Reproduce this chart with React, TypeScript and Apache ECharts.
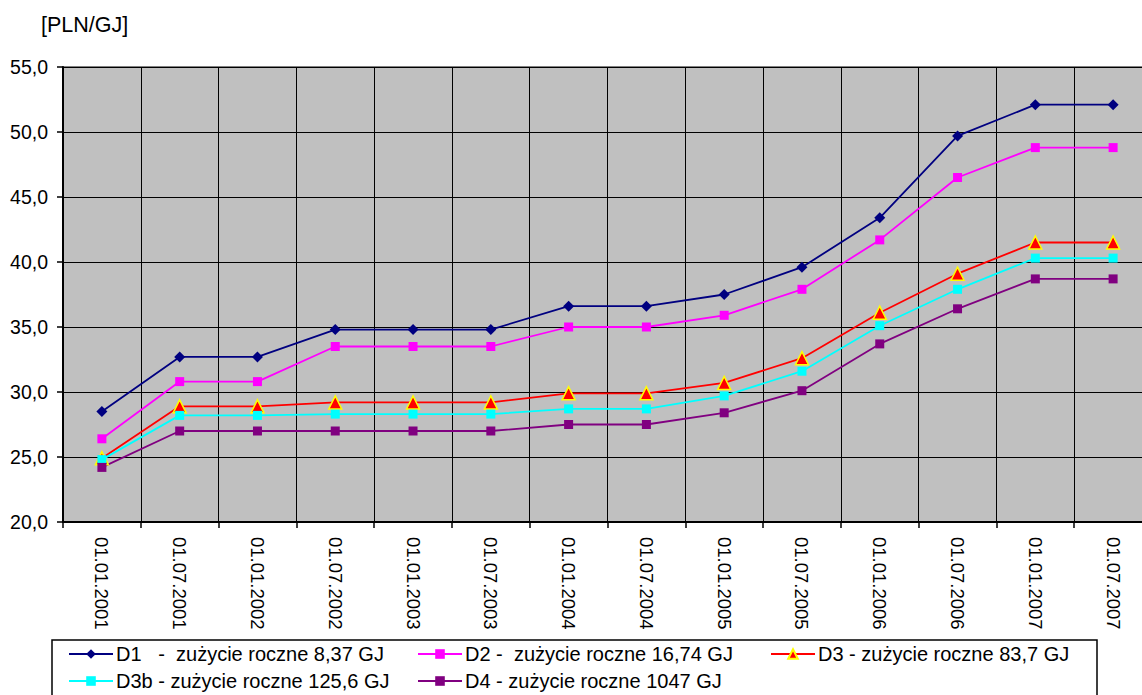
import React, { useEffect, useRef } from "react";
import * as echarts from "echarts";

const categories = [
  "01.01.2001", "01.07.2001", "01.01.2002", "01.07.2002", "01.01.2003", "01.07.2003",
  "01.01.2004", "01.07.2004", "01.01.2005", "01.07.2005", "01.01.2006", "01.07.2006",
  "01.01.2007", "01.07.2007",
];

const seriesNames = [
  "D1   -  zużycie roczne 8,37 GJ",
  "D2 -  zużycie roczne 16,74 GJ",
  "D3 - zużycie roczne 83,7 GJ",
  "D3b - zużycie roczne 125,6 GJ",
  "D4 - zużycie roczne 1047 GJ",
];

const d1 = [28.5, 32.7, 32.7, 34.8, 34.8, 34.8, 36.6, 36.6, 37.5, 39.6, 43.4, 49.7, 52.1, 52.1];
const d2 = [26.4, 30.8, 30.8, 33.5, 33.5, 33.5, 35.0, 35.0, 35.9, 37.9, 41.7, 46.5, 48.8, 48.8];
const d3 = [24.9, 28.9, 28.9, 29.2, 29.2, 29.2, 29.9, 29.9, 30.7, 32.6, 36.1, 39.1, 41.5, 41.5];
const d3b = [24.8, 28.2, 28.2, 28.3, 28.3, 28.3, 28.7, 28.7, 29.7, 31.6, 35.1, 37.9, 40.3, 40.3];
const d4 = [24.2, 27.0, 27.0, 27.0, 27.0, 27.0, 27.5, 27.5, 28.4, 30.1, 33.7, 36.4, 38.7, 38.7];

const yMin = 20;
const yMax = 55;
const yStep = 5;

const FONT = "'Liberation Sans', Arial, sans-serif";

export default function App() {
  const ref = useRef<HTMLDivElement>(null);

  useEffect(() => {
    if (!ref.current) return;
    const chart = echarts.init(ref.current, null, { renderer: "svg" });

    const mk = (name: string, data: number[], color: string, symbol: string, size: number) => ({
      name,
      type: "line",
      data,
      symbol,
      symbolSize: size,
      lineStyle: { color, width: 1.8 },
      itemStyle: { color },
      emphasis: { disabled: true },
    });

    const legendPos = [
      { left: 68, top: 644 },
      { left: 417, top: 644 },
      { left: 770, top: 644 },
      { left: 68, top: 671 },
      { left: 417, top: 671 },
    ];

    const option: any = {
      animation: false,
      title: {
        text: "[PLN/GJ]",
        left: 41,
        top: 14,
        padding: 0,
        textStyle: { fontFamily: FONT, fontSize: 21.5, fontWeight: "normal", color: "#000" },
      },
      grid: {
        left: 63,
        top: 67,
        right: 0,
        bottom: 173,
        show: true,
        backgroundColor: "#C0C0C0",
        borderColor: "#000",
        borderWidth: 1,
      },
      legend: seriesNames.map((n, i) => ({
        data: [n],
        left: legendPos[i].left,
        top: legendPos[i].top,
        padding: 0,
        itemWidth: 44,
        itemHeight: 12,
        itemGap: 4,
        selectedMode: false,
        textStyle: { fontFamily: FONT, fontSize: 20, color: "#000", padding: [0, 0, 0, -2] },
      })),
      xAxis: {
        type: "category",
        data: categories,
        boundaryGap: true,
        axisLine: { show: true, lineStyle: { color: "#000", width: 2 } },
        axisTick: { show: true, length: 6, lineStyle: { color: "#000", width: 1.5 } },
        splitLine: { show: true, interval: 0, lineStyle: { color: "#000", width: 1 } },
        axisLabel: {
          interval: 0,
          rotate: -90,
          margin: 15,
          fontFamily: FONT,
          fontSize: 18.5,
          color: "#000",
        },
      },
      yAxis: {
        type: "value",
        min: yMin,
        max: yMax,
        interval: yStep,
        axisLine: { show: true, lineStyle: { color: "#000", width: 2 } },
        axisTick: { show: true, length: 6, lineStyle: { color: "#000", width: 1.5 } },
        splitLine: { show: true, lineStyle: { color: "#000", width: 1 } },
        axisLabel: {
          margin: 15,
          fontFamily: FONT,
          fontSize: 19.5,
          color: "#000",
          formatter: (v: number) => v.toFixed(1).replace(".", ","),
        },
      },
      series: [
        mk(seriesNames[0], d1, "#000080", "diamond", 11),
        mk(seriesNames[1], d2, "#FF00FF", "rect", 9),
        {
          name: seriesNames[2],
          type: "line",
          data: d3,
          symbol: "triangle",
          symbolSize: 13,
          lineStyle: { color: "#FF0000", width: 1.8 },
          itemStyle: { color: "#FF0000", borderColor: "#FFFF00", borderWidth: 1.5 },
          emphasis: { disabled: true },
          z: 3,
        },
        mk(seriesNames[3], d3b, "#00FFFF", "rect", 9),
        mk(seriesNames[4], d4, "#800080", "rect", 9),
      ],
      graphic: [
        {
          type: "rect",
          shape: { x: 52, y: 640, width: 1045, height: 70 },
          style: { fill: "#fff", stroke: "#000", lineWidth: 1.5 },
          z: -1,
        },
      ],
    };

    chart.setOption(option);
    return () => chart.dispose();
  }, []);

  return (
    <div style={{ position: "fixed", left: 0, top: 0, width: 1142, height: 695, overflow: "hidden", background: "#fff" }}>
      <div ref={ref} style={{ width: 1152, height: 695 }} />
    </div>
  );
}
